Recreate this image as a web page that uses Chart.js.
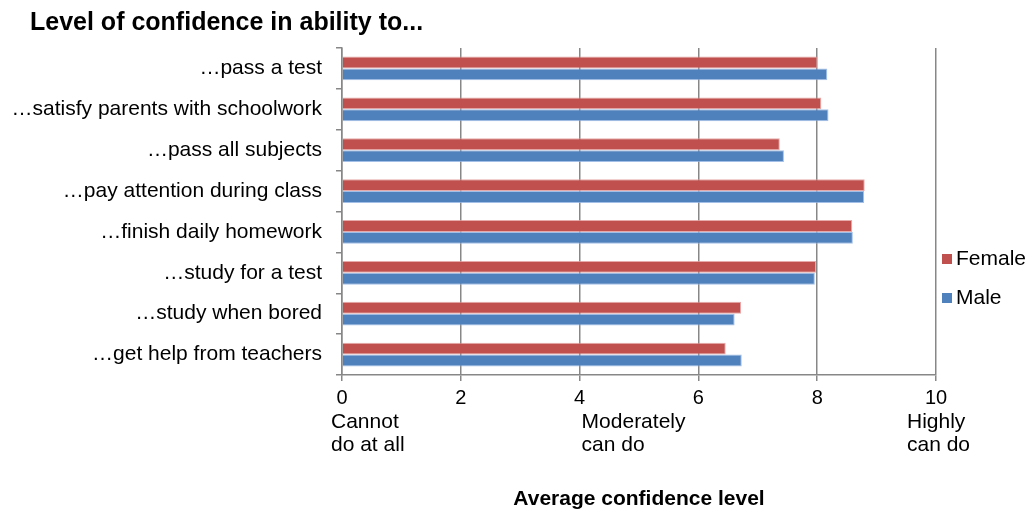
<!DOCTYPE html>
<html>
<head>
<meta charset="utf-8">
<script src="https://cdn.jsdelivr.net/npm/chart.js@4/dist/chart.umd.min.js"></script>
<style>
  html, body { margin: 0; padding: 0; background: #fff; }
  #wrap { width: 1029px; height: 512px; position: relative; }
</style>
</head>
<body>
<div id="wrap"><canvas id="chart"></canvas></div>
<script>
// chart data
const categories = [
    '\u2026pass a test',
    '\u2026satisfy parents with schoolwork',
    '\u2026pass all subjects',
    '\u2026pay attention during class',
    '\u2026finish daily homework',
    '\u2026study for a test',
    '\u2026study when bored',
    '\u2026get help from teachers'
];
const femaleValues = [8.00, 8.07, 7.37, 8.80, 8.59, 7.98, 6.72, 6.46];
const maleValues = [8.17, 8.19, 7.44, 8.79, 8.60, 7.96, 6.61, 6.73];
const seriesNames = ['Female', 'Male'];
const xMin = 0;
const xMax = 10;
const xStep = 2;
const noteValues = [0, 4, 10];
const noteTexts = [['Cannot', 'do at all'], ['Moderately', 'can do'], ['Highly', 'can do']];

const chartTitle = 'Level of confidence in ability to...';
const axisTitle = 'Average confidence level';

const FONT = '"Liberation Sans", Arial, sans-serif';
const RED = '#C0504D';
const BLUE = '#4F81BD';
const GRID = '#878787';

// draws title, legend and the verbal scale notes under the x axis
const extrasPlugin = {
    id: 'extras',
    afterDraw: function (chart) {
        const ctx = chart.ctx;
        const xScale = chart.scales.x;
        ctx.save();
        ctx.fillStyle = '#000';

        // title
        ctx.font = 'bold 25px ' + FONT;
        ctx.textAlign = 'left';
        ctx.textBaseline = 'middle';
        ctx.fillText(chartTitle, 30, 23);

        // scale notes below tick numbers
        ctx.font = '21px ' + FONT;
        const noteOffsets = [-11, 2, -29];
        noteValues.forEach(function (v, i) {
            const x = xScale.getPixelForValue(v) + noteOffsets[i];
            noteTexts[i].forEach(function (line, j) {
                ctx.fillText(line, x, 422 + j * 23);
            });
        });

        // axis title
        ctx.font = 'bold 21px ' + FONT;
        ctx.textAlign = 'center';
        ctx.fillText(axisTitle, (chart.chartArea.left + chart.chartArea.right) / 2, 499);

        // legend
        ctx.font = '21px ' + FONT;
        ctx.textAlign = 'left';
        chart.data.datasets.forEach(function (ds, i) {
            const y = 259 + i * 39;
            ctx.fillStyle = ds.backgroundColor;
            ctx.fillRect(942, y - 5, 10, 10);
            ctx.fillStyle = '#000';
            ctx.fillText(ds.label, 956, y);
        });
        ctx.restore();
    }
};

const ctx = document.getElementById('chart').getContext('2d');
window.chart = new Chart(ctx, {
    type: 'bar',
    data: {
        labels: categories,
        datasets: [{
            label: seriesNames[0],
            data: femaleValues,
            backgroundColor: RED,
            borderColor: 'rgba(225,150,150,0.8)',
            borderWidth: 1,
            categoryPercentage: 0.58,
            barPercentage: 1.0
        }, {
            label: seriesNames[1],
            data: maleValues,
            backgroundColor: BLUE,
            borderColor: 'rgba(140,175,225,0.8)',
            borderWidth: 1,
            categoryPercentage: 0.58,
            barPercentage: 1.0
        }]
    },
    options: {
        indexAxis: 'y',
        responsive: true,
        maintainAspectRatio: false,
        animation: false,
        layout: {
            padding: { left: 0, right: 93, top: 48, bottom: 0 }
        },
        plugins: {
            legend: { display: false },
            title: { display: false },
            tooltip: { enabled: false }
        },
        scales: {
            x: {
                min: xMin,
                max: xMax,
                ticks: {
                    stepSize: xStep,
                    color: '#000',
                    font: { family: FONT, size: 20 },
                    padding: 5
                },
                grid: {
                    color: GRID,
                    lineWidth: 1.5,
                    tickLength: 6
                },
                border: { color: GRID, width: 1.5 },
                afterFit: function (scale) { scale.height = 137; }
            },
            y: {
                ticks: {
                    color: '#000',
                    font: { family: FONT, size: 21 },
                    padding: 14
                },
                grid: {
                    offset: true,
                    drawOnChartArea: false,
                    color: GRID,
                    lineWidth: 1.5,
                    tickLength: 6
                },
                border: { color: GRID, width: 1.5 },
                afterFit: function (scale) { scale.width = 342; }
            }
        }
    },
    plugins: [extrasPlugin]
});
</script>
</body>
</html>
